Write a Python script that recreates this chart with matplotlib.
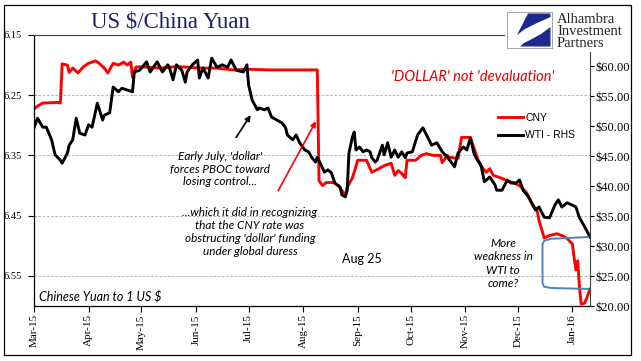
import matplotlib
matplotlib.use("Agg")
import matplotlib.pyplot as plt
import matplotlib.dates as mdates
from matplotlib.patches import Rectangle, Polygon
import pandas as pd

# CNY per US $ (left axis, inverted)
cny_dates = ["2015-03-01", "2015-03-03", "2015-03-06", "2015-03-15", "2015-03-16", "2015-03-17",
             "2015-03-20", "2015-03-21", "2015-03-23", "2015-03-26", "2015-03-29", "2015-04-01",
             "2015-04-05", "2015-04-07", "2015-04-10", "2015-04-12", "2015-04-15", "2015-04-18",
             "2015-04-21", "2015-04-23", "2015-04-25", "2015-04-26", "2015-04-28", "2015-05-02",
             "2015-05-12", "2015-05-19", "2015-05-25", "2015-06-03", "2015-06-13", "2015-06-22",
             "2015-07-02", "2015-07-13", "2015-07-30", "2015-08-09", "2015-08-10", "2015-08-12",
             "2015-08-14", "2015-08-18", "2015-08-21", "2015-08-23", "2015-08-25", "2015-08-26",
             "2015-08-29", "2015-09-01", "2015-09-06", "2015-09-09", "2015-09-11", "2015-09-13",
             "2015-09-16", "2015-09-20", "2015-09-22", "2015-09-24", "2015-09-26", "2015-09-28",
             "2015-09-29", "2015-10-04", "2015-10-07", "2015-10-10", "2015-10-14", "2015-10-18",
             "2015-10-19", "2015-10-22", "2015-10-23", "2015-10-28", "2015-10-30", "2015-11-04",
             "2015-11-06", "2015-11-08", "2015-11-10", "2015-11-13", "2015-11-15", "2015-11-17",
             "2015-11-21", "2015-11-25", "2015-11-28", "2015-12-02", "2015-12-06", "2015-12-09",
             "2015-12-12", "2015-12-13", "2015-12-16", "2015-12-19", "2015-12-23", "2015-12-26",
             "2015-12-29", "2016-01-01", "2016-01-02", "2016-01-03", "2016-01-04", "2016-01-05",
             "2016-01-06", "2016-01-08", "2016-01-10", "2016-01-11"]
cny = [6.273, 6.268, 6.263, 6.262, 6.263, 6.198,
       6.200, 6.212, 6.205, 6.213, 6.203, 6.197,
       6.193, 6.197, 6.205, 6.213, 6.197, 6.200,
       6.195, 6.200, 6.195, 6.220, 6.203, 6.203,
       6.205, 6.203, 6.203, 6.205, 6.205, 6.208,
       6.207, 6.208, 6.208, 6.208, 6.392, 6.400,
       6.395, 6.395, 6.400, 6.408, 6.417, 6.403,
       6.387, 6.358, 6.358, 6.378, 6.375, 6.372,
       6.367, 6.363, 6.383, 6.375, 6.380, 6.387,
       6.358, 6.358, 6.350, 6.347, 6.350, 6.350,
       6.362, 6.350, 6.353, 6.355, 6.320, 6.320,
       6.337, 6.355, 6.367, 6.378, 6.372, 6.383,
       6.387, 6.392, 6.395, 6.400, 6.412, 6.430,
       6.442, 6.458, 6.487, 6.483, 6.480, 6.483,
       6.488, 6.497, 6.520, 6.540, 6.525, 6.568,
       6.597, 6.595, 6.580, 6.572]

# WTI crude, $ (right axis)
wti_dates = ["2015-03-01", "2015-03-03", "2015-03-06", "2015-03-08", "2015-03-11", "2015-03-13",
             "2015-03-16", "2015-03-17", "2015-03-20", "2015-03-21", "2015-03-23", "2015-03-25",
             "2015-03-27", "2015-03-30", "2015-04-01", "2015-04-03", "2015-04-06", "2015-04-09",
             "2015-04-10", "2015-04-13", "2015-04-15", "2015-04-18", "2015-04-20", "2015-04-23",
             "2015-04-26", "2015-04-27", "2015-04-30", "2015-05-04", "2015-05-06", "2015-05-10",
             "2015-05-13", "2015-05-16", "2015-05-17", "2015-05-19", "2015-05-21", "2015-05-24",
             "2015-05-26", "2015-05-27", "2015-05-30", "2015-06-02", "2015-06-03", "2015-06-05",
             "2015-06-08", "2015-06-10", "2015-06-13", "2015-06-16", "2015-06-19", "2015-06-21",
             "2015-06-24", "2015-06-28", "2015-06-30", "2015-07-01", "2015-07-03", "2015-07-06",
             "2015-07-07", "2015-07-10", "2015-07-12", "2015-07-14", "2015-07-17", "2015-07-20",
             "2015-07-22", "2015-07-23", "2015-07-26", "2015-07-28", "2015-07-30", "2015-08-02",
             "2015-08-04", "2015-08-06", "2015-08-08", "2015-08-09", "2015-08-12", "2015-08-13",
             "2015-08-15", "2015-08-17", "2015-08-19", "2015-08-22", "2015-08-23", "2015-08-25",
             "2015-08-26", "2015-08-27", "2015-08-29", "2015-08-30", "2015-08-31", "2015-09-02",
             "2015-09-04", "2015-09-06", "2015-09-08", "2015-09-09", "2015-09-11", "2015-09-12",
             "2015-09-15", "2015-09-16", "2015-09-18", "2015-09-20", "2015-09-22", "2015-09-24",
             "2015-09-26", "2015-09-28", "2015-09-29", "2015-10-02", "2015-10-05", "2015-10-08",
             "2015-10-11", "2015-10-13", "2015-10-16", "2015-10-19", "2015-10-22", "2015-10-26",
             "2015-10-28", "2015-10-31", "2015-11-02", "2015-11-04", "2015-11-06", "2015-11-08",
             "2015-11-10", "2015-11-12", "2015-11-15", "2015-11-18", "2015-11-19", "2015-11-22",
             "2015-11-25", "2015-11-27", "2015-11-30", "2015-12-02", "2015-12-04", "2015-12-07",
             "2015-12-11", "2015-12-13", "2015-12-16", "2015-12-19", "2015-12-22", "2015-12-24",
             "2015-12-26", "2015-12-29", "2016-01-01", "2016-01-03", "2016-01-05", "2016-01-08",
             "2016-01-11"]
wti = [49.7, 51.3, 49.8, 49.8, 47.7, 45.2,
       44.3, 43.8, 45.5, 46.8, 47.7, 51.3,
       48.8, 48.5, 50.2, 49.8, 53.8, 51.0,
       51.8, 52.2, 56.5, 55.7, 56.3, 56.0,
       55.7, 59.0, 59.3, 60.7, 59.0, 60.7,
       59.0, 60.2, 59.7, 57.7, 60.2, 59.3,
       57.3, 59.0, 60.2, 61.0, 58.0, 59.7,
       58.0, 61.3, 59.8, 60.2, 59.8, 61.0,
       59.3, 59.0, 60.2, 56.8, 54.3, 52.7,
       53.0, 52.7, 53.0, 51.5, 51.0, 50.5,
       49.7, 48.5, 47.7, 48.5, 47.2, 46.0,
       45.7, 44.7, 44.0, 44.8, 43.0, 42.3,
       42.7, 42.2, 40.5, 39.8, 38.5, 38.2,
       39.3, 45.5, 48.2, 49.0, 46.0, 46.5,
       45.7, 46.0, 45.7, 44.7, 44.0, 44.3,
       46.8, 45.2, 47.2, 44.8, 46.0, 44.8,
       45.7, 44.7, 45.5, 45.7, 48.5, 49.7,
       48.0, 46.8, 47.2, 45.7, 44.8, 43.2,
       45.5, 46.5, 46.0, 48.0, 45.5, 44.3,
       43.5, 40.7, 41.5, 40.2, 39.3, 39.3,
       41.0, 40.5, 40.5, 41.0, 39.3, 38.2,
       36.0, 36.5, 34.8, 34.7, 36.8, 37.7,
       36.5, 37.2, 36.8, 36.5, 34.7, 33.2,
       31.5]

left_ticks = [6.15, 6.25, 6.35, 6.45, 6.55]
right_ticks = [20, 25, 30, 35, 40, 45, 50, 55, 60]

# blue bracket on the right axis (date, $)
bracket_dates = ["2016-01-10", "2015-12-20", "2015-12-16", "2015-12-15",
                 "2015-12-15", "2015-12-16", "2015-12-20", "2016-01-10"]
bracket_vals = [31.5, 31.2, 30.9, 30.3, 23.8, 23.2, 23.0, 22.85]

W, H = 641, 361
plt.rcParams['font.family'] = ['Liberation Serif', 'DejaVu Serif']


def fx(px):
    return px / W


def fy(py):
    return 1 - py / H


fig = plt.figure(figsize=(W / 100, H / 100), dpi=100)
fig.patch.set_facecolor('white')

ax = fig.add_axes([fx(34), fy(306), fx(590) - fx(34), fy(35) - fy(306)])
ax2 = ax.twinx()

cd = pd.to_datetime(cny_dates)
wd = pd.to_datetime(wti_dates)
l1, = ax.plot(cd, cny, color='#ff0000', lw=2.1, solid_joinstyle='round', label='CNY')
l2, = ax2.plot(wd, wti, color='black', lw=2.1, solid_joinstyle='round', label='WTI - RHS')

ax.set_xlim(pd.Timestamp('2015-03-01'), pd.Timestamp('2016-01-11'))
ax.set_ylim(6.60, 6.15)
ax2.set_ylim(20, 65.17)

ax.set_yticks(left_ticks)
ax.set_yticklabels([f'{v:.2f}' for v in left_ticks])
ax.yaxis.grid(True, ls=(0, (3, 2)), color='#a6a6a6', lw=0.6)
ax2.set_yticks(right_ticks)
ax2.set_yticklabels([f'${v:.2f}' for v in right_ticks])

ax.xaxis.set_major_locator(mdates.MonthLocator())
ax.xaxis.set_major_formatter(mdates.DateFormatter('%b-%y'))
ax.tick_params(axis='x', direction='out', length=4, width=0.8, labelsize=8, pad=2,
               labelrotation=90)
ax.tick_params(axis='y', direction='out', length=4, width=0.8, labelsize=7.5, pad=5)
ax2.tick_params(axis='y', direction='out', length=3, width=0.8, labelsize=9, pad=1)

for s in ['left', 'bottom']:
    ax.spines[s].set_linewidth(0.9)
ax.spines['top'].set_color('#404040')
ax.spines['top'].set_linewidth(0.8)
ax.spines['right'].set_visible(False)
for s in ['left', 'bottom', 'top']:
    ax2.spines[s].set_visible(False)
ax2.spines['right'].set_linewidth(0.8)
ax2.spines['right'].set_color('#404040')

# arrows
ax2.annotate('', xy=(pd.Timestamp('2015-07-03'), 52.2), xytext=(pd.Timestamp('2015-06-23'), 47.7),
             arrowprops=dict(arrowstyle='-|>', color='black', lw=1.2, mutation_scale=8))
ax2.annotate('', xy=(pd.Timestamp('2015-08-09'), 51.2), xytext=(pd.Timestamp('2015-07-17'), 38.8),
             arrowprops=dict(arrowstyle='-|>', color='#ff0000', lw=1.2, mutation_scale=8))

ax2.plot(pd.to_datetime(bracket_dates), bracket_vals, color='#4f81bd', lw=1.4)

ax2.legend([l1, l2], ['CNY', 'WTI - RHS'], loc='center left',
           bbox_to_anchor=(fx(498), fy(126.5)), bbox_transform=fig.transFigure,
           frameon=False, borderpad=0, borderaxespad=0, handlelength=2.4,
           handletextpad=0.2, labelspacing=0.7,
           prop={'family': 'Liberation Sans', 'size': 7.5})

sans = ['Lato', 'DejaVu Sans']
fig.text(fx(220), fy(169), "Early July, 'dollar'\nforces PBOC toward\nlosing control...",
         ha='center', va='center', style='italic', family=sans, size=8.5, linespacing=1.2)
fig.text(fx(250), fy(232), "...which it did in recognizing\nthat the CNY rate was\n"
         "obstructing 'dollar' funding\nunder global duress",
         ha='center', va='center', style='italic', family=sans, size=8.5, linespacing=1.25)
fig.text(fx(473), fy(77), "'DOLLAR' not 'devaluation'", ha='center', va='center',
         style='italic', family=sans, size=10.5, color='#e00000')
fig.text(fx(342), fy(259), "Aug 25", ha='left', va='center', family=sans, size=9)
fig.text(fx(503), fy(263.5), "More\nweakness in\nWTI to\ncome?", ha='center', va='center',
         style='italic', family=sans, size=8.5, linespacing=1.27)
fig.text(fx(39), fy(297), "Chinese Yuan to 1 US $", ha='left', va='center',
         style='italic', family=sans, size=9)

fig.text(fx(170), fy(22), "US $/China Yuan", ha='center', va='center', size=16.5,
         color='#1f1f6f')

# logo area
fig.patches.append(Rectangle((fx(505), fy(52)), fx(628) - fx(505), fy(6) - fy(52),
                             transform=fig.transFigure, facecolor='white',
                             edgecolor='none', zorder=5))
lax = fig.add_axes([fx(507), fy(48), fx(552) - fx(507), fy(12) - fy(48)], zorder=6)
lax.set_xlim(0, 45)
lax.set_ylim(36, 0)
lax.set_xticks([])
lax.set_yticks([])
for s in lax.spines.values():
    s.set_color('#9a9a9a')
    s.set_linewidth(0.6)
lax.add_patch(Polygon([(21, 1.5), (43.5, 1.5), (43.5, 5), (30, 11), (18, 17), (10, 23)],
                      closed=True, facecolor='#1b2a8c', edgecolor='none'))
lax.add_patch(Polygon([(13, 34.5), (43.5, 34.5), (43.5, 15), (34, 22), (24, 27.5),
                       (17, 31)], closed=True, facecolor='#1b2a8c', edgecolor='none'))
for txt, yb in [("Alhambra", 23), ("Investment", 35), ("Partners", 47)]:
    fig.text(fx(557), fy(yb), txt, ha='left', va='baseline', size=10.5, color='#222222',
             zorder=7)

# outer border
fig.patches.append(Rectangle((fx(4), fy(355)), fx(631) - fx(4), fy(5) - fy(355),
                             transform=fig.transFigure, facecolor='none',
                             edgecolor='black', lw=0.9, zorder=8))

fig.savefig('out.png', dpi=100)
